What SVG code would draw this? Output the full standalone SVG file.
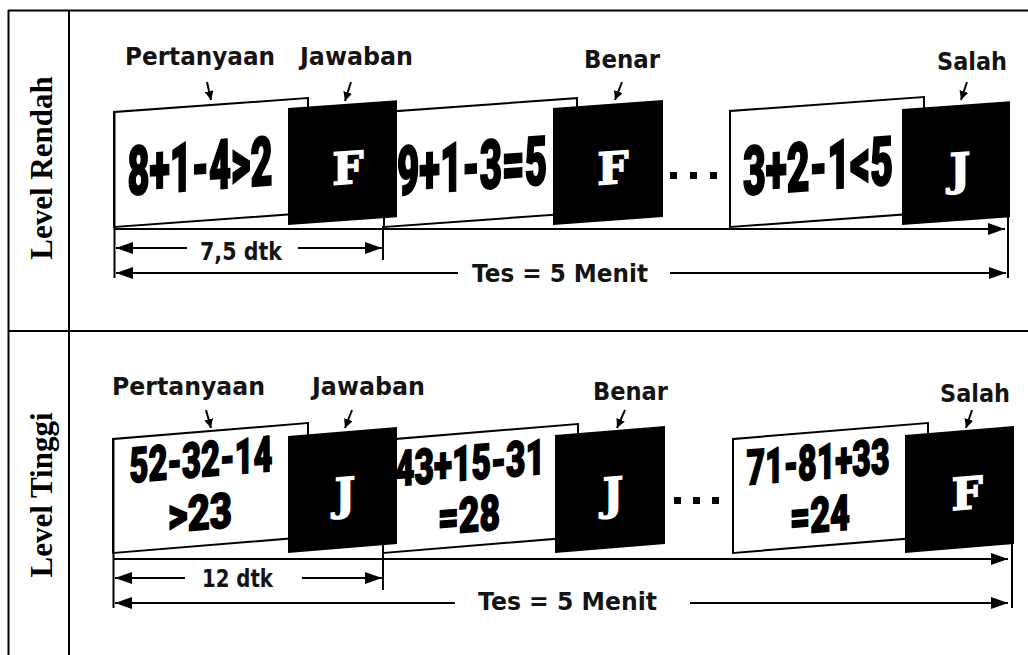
<svg xmlns="http://www.w3.org/2000/svg" width="1028" height="655" viewBox="0 0 1028 655">
  <defs>
    <style>
      .grid { stroke:#000; stroke-width:2; fill:none; }
      .q { fill:#fff; stroke:#000; stroke-width:2; }
      .a { fill:#000; }
      .expr { font-family:"Roboto","Liberation Sans",sans-serif; font-weight:900; font-size:68px; text-anchor:middle; fill:#000; stroke:#000; stroke-width:2; }
      .expr2 { font-family:"Roboto","Liberation Sans",sans-serif; font-weight:900; font-size:49px; text-anchor:middle; fill:#000; stroke:#000; stroke-width:1.6; }
      .ans { font-family:"DejaVu Serif","Liberation Serif",serif; font-weight:bold; font-size:44px; fill:#fff; stroke:#fff; stroke-width:1.5; text-anchor:middle; }
      .lbl { font-family:"DejaVu Sans","Liberation Sans",sans-serif; font-weight:bold; font-size:24px; fill:#141414; }
      .lvl { font-family:"Liberation Serif","Times New Roman",serif; font-weight:bold; font-size:31px; text-anchor:middle; fill:#000; }
      .ln { stroke:#000; stroke-width:2; fill:none; }
      .dot { fill:#000; }
    </style>
    <marker id="ah" viewBox="0 0 17 12" refX="17" refY="6" markerWidth="17" markerHeight="12" markerUnits="userSpaceOnUse" orient="auto-start-reverse">
      <path d="M0,0 L17,6 L0,12 z" fill="#000"/>
    </marker>
    <marker id="as" viewBox="0 0 9 9" refX="9" refY="4.5" markerWidth="9" markerHeight="9" markerUnits="userSpaceOnUse" orient="auto">
      <path d="M0,0 L9,4.5 L0,9 z" fill="#000"/>
    </marker>
  </defs>

  <rect width="1028" height="655" fill="#fff"/>

  <!-- table frame -->
  <g id="table">
    <line class="grid" x1="8" y1="10.5" x2="1028" y2="10.5"/>
    <line class="grid" x1="8.5" y1="10" x2="8.5" y2="655"/>
    <line class="grid" x1="69" y1="10" x2="69" y2="655"/>
    <line class="grid" x1="8" y1="331" x2="1028" y2="331"/>
  </g>

  <g id="level-rendah">
    <text class="lvl" transform="translate(52,168) rotate(-90)">Level Rendah</text>
  </g>
  <g id="level-tinggi">
    <text class="lvl" transform="translate(52,495) rotate(-90)">Level Tinggi</text>
  </g>

  <!-- ===== Level Rendah ===== -->
  <g id="r-labels">
    <text class="lbl" x="125" y="65" textLength="150" lengthAdjust="spacingAndGlyphs">Pertanyaan</text>
    <text class="lbl" x="300" y="65" textLength="113" lengthAdjust="spacingAndGlyphs">Jawaban</text>
    <text class="lbl" x="584" y="68" textLength="76" lengthAdjust="spacingAndGlyphs">Benar</text>
    <text class="lbl" x="937" y="70" textLength="70" lengthAdjust="spacingAndGlyphs">Salah</text>
  </g>

  <g id="r-q1" transform="translate(114,112) skewY(-4.12)">
    <rect class="q" x="0" y="0" width="194" height="115"/>
    <text class="expr" x="86" y="84" textLength="145" lengthAdjust="spacingAndGlyphs">8+1-4&gt;2</text>
  </g>
  <g id="r-q2" transform="translate(384,112) skewY(-4.12)">
    <rect class="q" x="0" y="0" width="193" height="115"/>
    <text class="expr" x="88" y="84" textLength="150" lengthAdjust="spacingAndGlyphs">9+1-3=5</text>
  </g>
  <g id="r-q3" transform="translate(730,111) skewY(-4.12)">
    <rect class="q" x="0" y="0" width="194" height="116"/>
    <text class="expr" x="88" y="85" textLength="150" lengthAdjust="spacingAndGlyphs">3+2-1&lt;5</text>
  </g>
  <g id="r-a1" transform="translate(288,108) skewY(-4.12)">
    <rect class="a" x="0" y="0" width="109" height="117"/>
    <text class="ans" x="60" y="80">F</text>
  </g>
  <g id="r-a2" transform="translate(553,108) skewY(-4.12)">
    <rect class="a" x="0" y="0" width="110" height="117"/>
    <text class="ans" x="60" y="80">F</text>
  </g>
  <g id="r-a3" transform="translate(902,109) skewY(-4.12)">
    <rect class="a" x="0" y="0" width="108" height="116"/>
    <text class="ans" x="58" y="80">J</text>
  </g>
  <g id="r-dots">
    <rect class="dot" x="670" y="172" width="7" height="7"/>
    <rect class="dot" x="690" y="172" width="7" height="7"/>
    <rect class="dot" x="710" y="172" width="7" height="7"/>
  </g>

  <g id="r-timing">
    <text class="lbl" x="200" y="260" font-size="23" textLength="82" lengthAdjust="spacingAndGlyphs">7,5 dtk</text>
    <text class="lbl" x="472" y="282" textLength="176" lengthAdjust="spacingAndGlyphs">Tes = 5 Menit</text>
  </g>

  <!-- ===== Level Tinggi ===== -->
  <g id="t-labels">
    <text class="lbl" x="112" y="395" textLength="153" lengthAdjust="spacingAndGlyphs">Pertanyaan</text>
    <text class="lbl" x="312" y="395" textLength="113" lengthAdjust="spacingAndGlyphs">Jawaban</text>
    <text class="lbl" x="593" y="400" textLength="75" lengthAdjust="spacingAndGlyphs">Benar</text>
    <text class="lbl" x="940" y="402" textLength="70" lengthAdjust="spacingAndGlyphs">Salah</text>
  </g>

  <g id="t-q1" transform="translate(113,439) skewY(-4.69)">
    <rect class="q" x="0" y="0" width="195" height="114"/>
    <text class="expr2" x="88" y="45" textLength="143" lengthAdjust="spacingAndGlyphs">52-32-14</text>
    <text class="expr2" x="87" y="98" textLength="64" lengthAdjust="spacingAndGlyphs">&gt;23</text>
  </g>
  <g id="t-q2" transform="translate(383,440) skewY(-4.69)">
    <rect class="q" x="0" y="0" width="195" height="113"/>
    <text class="expr2" x="87" y="47" textLength="150" lengthAdjust="spacingAndGlyphs">43+15-31</text>
    <text class="expr2" x="86" y="99" textLength="62" lengthAdjust="spacingAndGlyphs">=28</text>
  </g>
  <g id="t-q3" transform="translate(733,439) skewY(-4.69)">
    <rect class="q" x="0" y="0" width="195" height="114"/>
    <text class="expr2" x="85" y="47" textLength="143" lengthAdjust="spacingAndGlyphs">71-81+33</text>
    <text class="expr2" x="87" y="100" textLength="60" lengthAdjust="spacingAndGlyphs">=24</text>
  </g>
  <g id="t-a1" transform="translate(288,436) skewY(-4.69)">
    <rect class="a" x="0" y="0" width="109" height="117"/>
    <text class="ans" x="57" y="78">J</text>
  </g>
  <g id="t-a2" transform="translate(555,435) skewY(-4.69)">
    <rect class="a" x="0" y="0" width="110" height="118"/>
    <text class="ans" x="58" y="79">J</text>
  </g>
  <g id="t-a3" transform="translate(905,435) skewY(-4.69)">
    <rect class="a" x="0" y="0" width="109" height="118"/>
    <text class="ans" x="62" y="79">F</text>
  </g>
  <g id="t-dots">
    <rect class="dot" x="674" y="497" width="7" height="7"/>
    <rect class="dot" x="693" y="497" width="7" height="7"/>
    <rect class="dot" x="712" y="497" width="7" height="7"/>
  </g>

  <g id="t-timing">
    <text class="lbl" x="202" y="587" font-size="23" textLength="71" lengthAdjust="spacingAndGlyphs">12 dtk</text>
    <text class="lbl" x="478" y="610" textLength="179" lengthAdjust="spacingAndGlyphs">Tes = 5 Menit</text>
  </g>

  <!-- connectors: pointer arrows, timeline and dimension lines -->
  <g id="connectors">
    <!-- Level Rendah pointers -->
    <line class="ln" x1="207" y1="82" x2="211" y2="100" marker-end="url(#as)"/>
    <line class="ln" x1="351" y1="82" x2="345" y2="101" marker-end="url(#as)"/>
    <line class="ln" x1="622" y1="82" x2="615" y2="100" marker-end="url(#as)"/>
    <line class="ln" x1="967" y1="82" x2="961" y2="100" marker-end="url(#as)"/>
    <!-- Level Rendah timeline -->
    <line class="ln" x1="114" y1="229" x2="1005" y2="229" marker-end="url(#ah)"/>
    <line class="ln" x1="114.5" y1="112" x2="114.5" y2="278"/>
    <line class="ln" x1="383" y1="226" x2="383" y2="260"/>
    <line class="ln" x1="1008" y1="215" x2="1008" y2="278"/>
    <line class="ln" x1="187" y1="248" x2="116" y2="248" marker-end="url(#ah)"/>
    <line class="ln" x1="298" y1="248" x2="382" y2="248" marker-end="url(#ah)"/>
    <line class="ln" x1="458" y1="273" x2="116" y2="273" marker-end="url(#ah)"/>
    <line class="ln" x1="670" y1="273" x2="1006" y2="273" marker-end="url(#ah)"/>

    <!-- Level Tinggi pointers -->
    <line class="ln" x1="206" y1="410" x2="211" y2="428" marker-end="url(#as)"/>
    <line class="ln" x1="352" y1="410" x2="345" y2="428" marker-end="url(#as)"/>
    <line class="ln" x1="625" y1="410" x2="617" y2="428" marker-end="url(#as)"/>
    <line class="ln" x1="972" y1="410" x2="966" y2="428" marker-end="url(#as)"/>
    <!-- Level Tinggi timeline -->
    <line class="ln" x1="113" y1="559" x2="1008" y2="559" marker-end="url(#ah)"/>
    <line class="ln" x1="113.5" y1="439" x2="113.5" y2="608"/>
    <line class="ln" x1="383" y1="552" x2="383" y2="590"/>
    <line class="ln" x1="1012" y1="542" x2="1012" y2="608"/>
    <line class="ln" x1="185" y1="578" x2="115" y2="578" marker-end="url(#ah)"/>
    <line class="ln" x1="302" y1="578" x2="382" y2="578" marker-end="url(#ah)"/>
    <line class="ln" x1="455" y1="603" x2="115" y2="603" marker-end="url(#ah)"/>
    <line class="ln" x1="690" y1="603" x2="1008" y2="603" marker-end="url(#ah)"/>
  </g>
</svg>
